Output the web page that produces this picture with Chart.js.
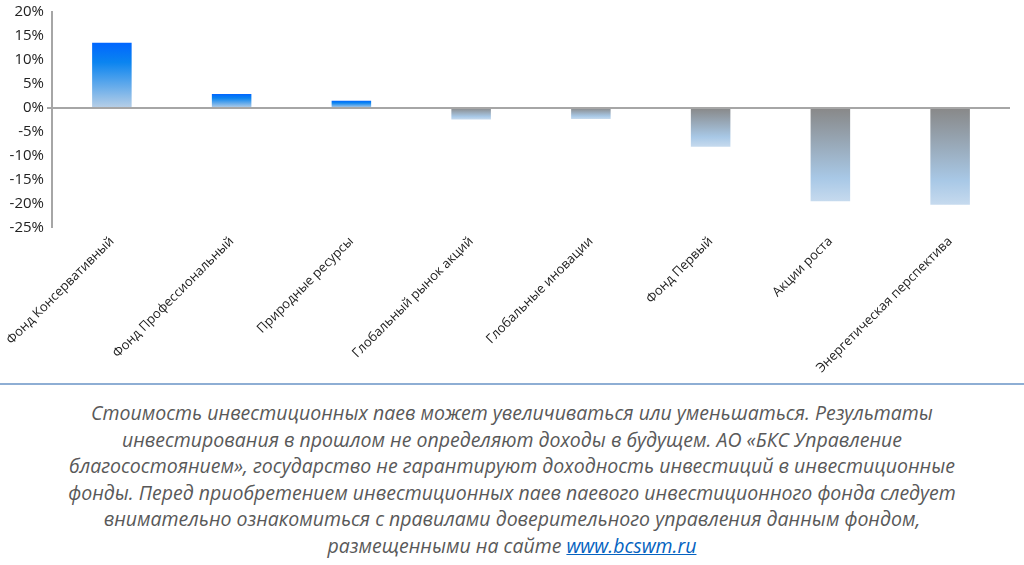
<!DOCTYPE html>
<html>
<head>
<meta charset="utf-8">
<script src="https://cdn.jsdelivr.net/npm/chart.js@4/dist/chart.umd.min.js"></script>
<style>
  body { margin: 0; background: #fff; width: 1024px; height: 565px; overflow: hidden; }
  #wrap { position: relative; width: 1010px; height: 382px; }
  #line { position: absolute; left: 0; top: 383px; width: 1024px; height: 2px; background: #8eaed4; }
  #note { position: absolute; top: 400px; left: 40px; width: 944px; text-align: center;
          font-family: "Open Sans", sans-serif; font-style: italic; font-size: 19.5px; line-height: 26.5px; color: #595959; }
  #note a { color: #0563c1; }
</style>
</head>
<body>
<div id="wrap"><canvas id="mainChart"></canvas></div>
<div id="line"></div>
<div id="note">Стоимость инвестиционных паев может увеличиваться или уменьшаться. Результаты<br>инвестирования в прошлом не определяют доходы в будущем. АО «БКС Управление<br>благосостоянием», государство не гарантируют доходность инвестиций в инвестиционные<br>фонды. Перед приобретением инвестиционных паев паевого инвестиционного фонда следует<br>внимательно ознакомиться с правилами доверительного управления данным фондом,<br>размещенными на сайте <a href="#">www.bcswm.ru</a></div>
<script>
const funds = ['Фонд Консервативный', 'Фонд Профессиональный', 'Природные ресурсы', 'Глобальный рынок акций',
    'Глобальные иновации', 'Фонд Первый', 'Акции роста', 'Энергетическая перспектива'];
const returns = [13.6, 2.9, 1.5, -2.4, -2.3, -8.1, -19.5, -20.2];
const yTicks = [20, 15, 10, 5, 0, -5, -10, -15, -20, -25];

// градиент на каждый столбик отдельно
function barFill(c) {
    const chart = c.chart;
    const y = chart.scales.y;
    if (!chart.chartArea || !y) return '#4a90e2';
    const v = c.raw;
    const top = y.getPixelForValue(Math.max(v, 0));
    const bot = y.getPixelForValue(Math.min(v, 0));
    const g = chart.ctx.createLinearGradient(0, top, 0, bot);
    if (v >= 0) {
        g.addColorStop(0, '#0066ff');
        g.addColorStop(0.3, '#0a84f0');
        g.addColorStop(1, '#b8cfe6');
    } else {
        g.addColorStop(0, '#888888');
        g.addColorStop(0.75, '#a8c8e6');
        g.addColorStop(1, '#c6daee');
    }
    return g;
}

new Chart(document.getElementById('mainChart'), {
    type: 'bar',
    data: {
        labels: funds,
        datasets: [{ data: returns, backgroundColor: barFill, barPercentage: 0.33, categoryPercentage: 1 }]
    },
    options: {
        responsive: true,
        maintainAspectRatio: false,
        animation: false,
        layout: { padding: { top: 12 } },
        plugins: { legend: { display: false }, tooltip: { enabled: false } },
        scales: {
            x: {
                grid: { display: false, drawTicks: false },
                border: { display: false },
                ticks: { color: '#222', font: { family: 'Open Sans', size: 13 }, maxRotation: 45, minRotation: 45, padding: 6 }
            },
            y: {
                min: -25, max: 20,
                afterBuildTicks: s => { s.ticks = yTicks.map(v => ({ value: v })); },
                grid: {
                    drawOnChartArea: true, tickLength: 5,
                    color: c => c.tick && c.tick.value === 0 ? '#a6a6a6' : 'transparent',
                    lineWidth: c => c.tick && c.tick.value === 0 ? 2 : 0
                },
                border: { color: '#a6a6a6', width: 2 },
                ticks: { color: '#222', font: { family: 'Open Sans', size: 15 }, callback: v => v + '%' }
            }
        }
    }
});
</script>
</body>
</html>
